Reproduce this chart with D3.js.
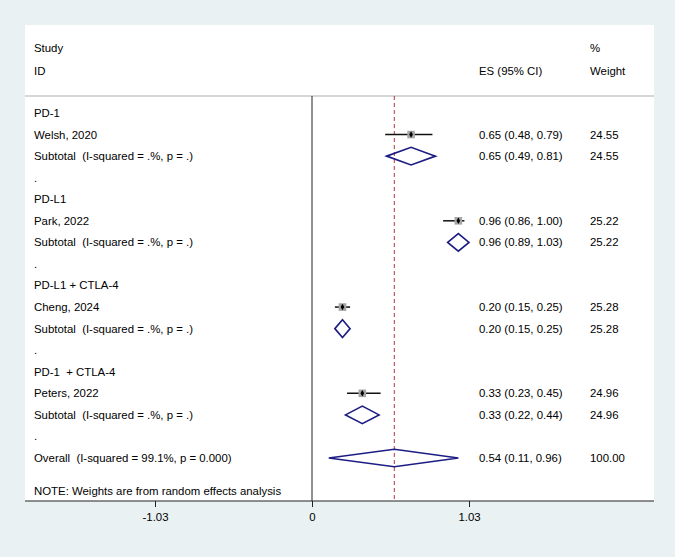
<!DOCTYPE html>
<html>
<head>
<meta charset="utf-8">
<script src="https://cdn.jsdelivr.net/npm/d3@7"></script>
<style>
  body { margin: 0; background: #e9f1f3; }
  text { font-family: "Liberation Sans", Arial, sans-serif; font-size: 11.4px; fill: #000; white-space: pre; }
</style>
</head>
<body>
<div id="graph"></div>
<script>
// data
const groups = ['PD-1', 'PD-L1', 'PD-L1 + CTLA-4', 'PD-1  + CTLA-4']
const studies = ['Welsh, 2020', 'Park, 2022', 'Cheng, 2024', 'Peters, 2022']
const es = [0.65, 0.96, 0.20, 0.33]
const lo = [0.48, 0.86, 0.15, 0.23]
const hi = [0.79, 1.00, 0.25, 0.45]
const weights = [24.55, 25.22, 25.28, 24.96]
const subEs = [0.65, 0.96, 0.20, 0.33]
const subLo = [0.49, 0.89, 0.15, 0.22]
const subHi = [0.81, 1.03, 0.25, 0.44]
const overall = { es: 0.54, lo: 0.11, hi: 0.96, weight: 100.00 }
const subLabel = 'Subtotal  (I-squared = .%, p = .)'
const overallLabel = 'Overall  (I-squared = 99.1%, p = 0.000)'
const note = 'NOTE: Weights are from random effects analysis'
const tickVals = [-1.03, 0, 1.03]
const tickLabels = ['-1.03', '0', '1.03']

const width = 675, height = 557
const panel = { left: 25, right: 654, top: 25, bottom: 501 }
const colText = 34, colES = 479, colW = 590
const navy = '#1c1c84'

const svg = d3.select('#graph')
    .append('svg')
    .attr('width', width)
    .attr('height', height)

const x = d3.scaleLinear().domain([-1.03, 1.03]).range([155, 469])
const y = d3.scaleLinear().domain([0, 16]).range([113, 458])

// build rows
const rows = []
groups.forEach((g, i) => {
    rows.push({ type: 'head', label: g })
    rows.push({ type: 'study', label: studies[i], es: es[i], lo: lo[i], hi: hi[i], w: weights[i] })
    rows.push({ type: 'sub', label: subLabel, es: subEs[i], lo: subLo[i], hi: subHi[i], w: weights[i] })
    rows.push({ type: 'blank', label: '.' })
})
rows.push({ type: 'overall', label: overallLabel, es: overall.es, lo: overall.lo, hi: overall.hi, w: overall.weight })
rows.forEach((r, i) => r.i = i)

svg.append('rect')
    .attr('x', panel.left).attr('y', panel.top)
    .attr('width', panel.right - panel.left).attr('height', panel.bottom - panel.top)
    .attr('fill', '#fff')

// header
const hdr = svg.append('g')
hdr.append('text').attr('x', colText).attr('y', 48).attr('dy', '0.35em').text('Study')
hdr.append('text').attr('x', colText).attr('y', 71).attr('dy', '0.35em').text('ID')
hdr.append('text').attr('x', colES).attr('y', 71).attr('dy', '0.35em').text('ES (95% CI)')
hdr.append('text').attr('x', colW).attr('y', 48).attr('dy', '0.35em').text('%')
hdr.append('text').attr('x', colW).attr('y', 71).attr('dy', '0.35em').text('Weight')
svg.append('line')
    .attr('x1', panel.left).attr('x2', panel.right)
    .attr('y1', 96).attr('y2', 96)
    .attr('stroke', '#d6d6d6').attr('stroke-width', 2)

// reference lines
svg.append('line')
    .attr('x1', x(0)).attr('x2', x(0))
    .attr('y1', 96).attr('y2', panel.bottom)
    .attr('stroke', '#222').attr('stroke-width', 1)
svg.append('line')
    .attr('x1', x(overall.es)).attr('x2', x(overall.es))
    .attr('y1', 96).attr('y2', panel.bottom)
    .attr('stroke', '#b8323a').attr('stroke-width', 1)
    .attr('stroke-dasharray', '4,3')

// labels
svg.selectAll('text.lab')
    .data(rows)
    .enter().append('text')
    .attr('class', 'lab')
    .attr('x', colText)
    .attr('y', d => y(d.i))
    .attr('dy', '0.35em')
    .text(d => d.label)

const fmt = d3.format('.2f')
const valRows = rows.filter(d => d.es !== undefined)
svg.selectAll('text.es')
    .data(valRows)
    .enter().append('text')
    .attr('class', 'es')
    .attr('x', colES)
    .attr('y', d => y(d.i))
    .attr('dy', '0.35em')
    .text(d => fmt(d.es) + ' (' + fmt(d.lo) + ', ' + fmt(d.hi) + ')')
svg.selectAll('text.wt')
    .data(valRows)
    .enter().append('text')
    .attr('class', 'wt')
    .attr('x', colW)
    .attr('y', d => y(d.i))
    .attr('dy', '0.35em')
    .text(d => fmt(d.w))

// study CIs + boxes
const st = rows.filter(d => d.type === 'study')
svg.selectAll('line.ci')
    .data(st)
    .enter().append('line')
    .attr('x1', d => x(d.lo)).attr('x2', d => x(d.hi))
    .attr('y1', d => y(d.i)).attr('y2', d => y(d.i))
    .attr('stroke', '#111').attr('stroke-width', 1.5)
svg.selectAll('rect.box')
    .data(st)
    .enter().append('rect')
    .attr('x', d => x(d.es) - 3.8 * Math.sqrt(d.w / 25))
    .attr('y', d => y(d.i) - 3.8 * Math.sqrt(d.w / 25))
    .attr('width', d => 7.6 * Math.sqrt(d.w / 25))
    .attr('height', d => 7.6 * Math.sqrt(d.w / 25))
    .attr('fill', '#a6a6a6')
svg.selectAll('path.dot')
    .data(st)
    .enter().append('path')
    .attr('transform', d => 'translate(' + x(d.es) + ',' + y(d.i) + ')')
    .attr('d', d3.symbol().type(d3.symbolDiamond).size(12))
    .attr('fill', '#000')

// diamonds
const dia = rows.filter(d => d.type === 'sub' || d.type === 'overall')
svg.selectAll('path.dia')
    .data(dia)
    .enter().append('path')
    .attr('d', d => {
        const cy = y(d.i), h = 8.8
        return 'M' + x(d.lo) + ',' + cy + 'L' + x(d.es) + ',' + (cy - h) +
            'L' + x(d.hi) + ',' + cy + 'L' + x(d.es) + ',' + (cy + h) + 'Z'
    })
    .attr('fill', 'none')
    .attr('stroke', navy)
    .attr('stroke-width', 1.6)

// note
svg.append('text').attr('x', colText).attr('y', 491).attr('dy', '0.35em').text(note)

// axis
svg.append('line')
    .attr('x1', panel.left).attr('x2', panel.right)
    .attr('y1', panel.bottom).attr('y2', panel.bottom)
    .attr('stroke', '#222').attr('stroke-width', 1)
const axis = svg.append('g')
    .attr('transform', 'translate(0,' + panel.bottom + ')')
    .call(d3.axisBottom(x).tickValues(tickVals).tickSize(6).tickPadding(6)
        .tickFormat((d, i) => tickLabels[i]))
axis.select('.domain').remove()
axis.selectAll('.tick line').attr('stroke', '#222')
axis.selectAll('.tick text')
    .style('font-family', '"Liberation Sans", Arial, sans-serif')
    .style('font-size', '11.4px')
    .attr('fill', '#000')
</script>
</body>
</html>
